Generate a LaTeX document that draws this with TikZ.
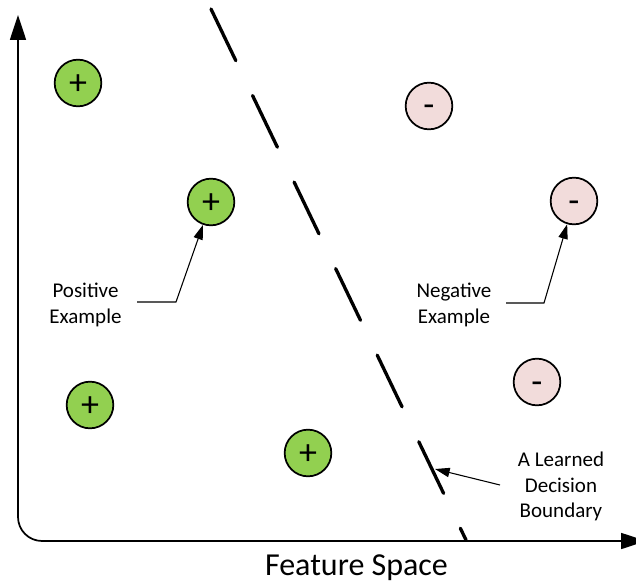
\documentclass[tikz,border=0pt]{standalone}
\usepackage{fontspec}
\setmainfont{Carlito}
\usetikzlibrary{arrows.meta}
\definecolor{posfill}{HTML}{92D050}
\definecolor{negfill}{HTML}{F2DCDB}
\begin{document}
\begin{tikzpicture}[x=0.75pt,y=-0.75pt,
  example/.style={circle, draw=black, line width=1.3pt, minimum size=35pt,
    inner sep=0pt, font=\fontsize{27}{27}\selectfont,
    text height=16.5pt, text depth=0pt},
  posex/.style={example, fill=posfill},
  negex/.style={example, fill=negfill},
  caption/.style={font=\fontsize{15.75}{19.1}\selectfont, align=center, inner sep=0pt},
  axisline/.style={line width=1.3pt, rounded corners=18pt,
    {Triangle[length=18.75pt,width=12pt]}-{Triangle[length=18.75pt,width=12pt]}},
  callout/.style={line width=0.8pt, -{Triangle[length=11pt,width=7pt]}},
  boundary/.style={line width=2.5pt, line cap=round, dash pattern=on 43pt off 29pt}]

\useasboundingbox (0,0) rectangle (636,585);
\clip (0,0) rectangle (636,585);

% axes with a rounded corner at the origin
\coordinate (ytip) at (18,15);
\coordinate (corner) at (18,541);
\coordinate (xtip) at (646,541);
\draw[axisline] (ytip) -- (corner) -- (xtip);
\node[font=\fontsize{24}{24}\selectfont, anchor=base] (xlabel) at (356.5,575) {Feature Space};

% decision boundary
\coordinate (btop) at (211,9);
\coordinate (bbot) at (466,540);
\draw[boundary] (btop) -- (bbot);

% positive examples
\node[posex] (p1) at (78,83) {+};
\node[posex] (p2) at (211,202) {+};
\node[posex] (p3) at (90,405) {+};
\node[posex] (p4) at (308,453) {+};

% negative examples
\node[negex] (n1) at (429,106) {-};
\node[negex] (n2) at (574,201) {-};
\node[negex] (n3) at (537,382) {-};

% captions
\node[caption] (posl) at (85.5,305) {Positive\\Example};
\node[caption] (negl) at (454,305) {Negative\\Example};
\node[caption] (bndl) at (561,486.5) {A Learned\\Decision\\Boundary};

% callout connectors
\coordinate (pa) at (137,302);
\coordinate (pb) at (176,302);
\draw[callout] (pa) -- (pb) -- (p2);
\coordinate (na) at (506,303);
\coordinate (nb) at (544,303);
\draw[callout] (na) -- (nb) -- (n2);
\coordinate (ba) at (500,485);
\coordinate (bt) at (435,469);
\draw[callout] (ba) -- (bt);
\end{tikzpicture}
\end{document}
